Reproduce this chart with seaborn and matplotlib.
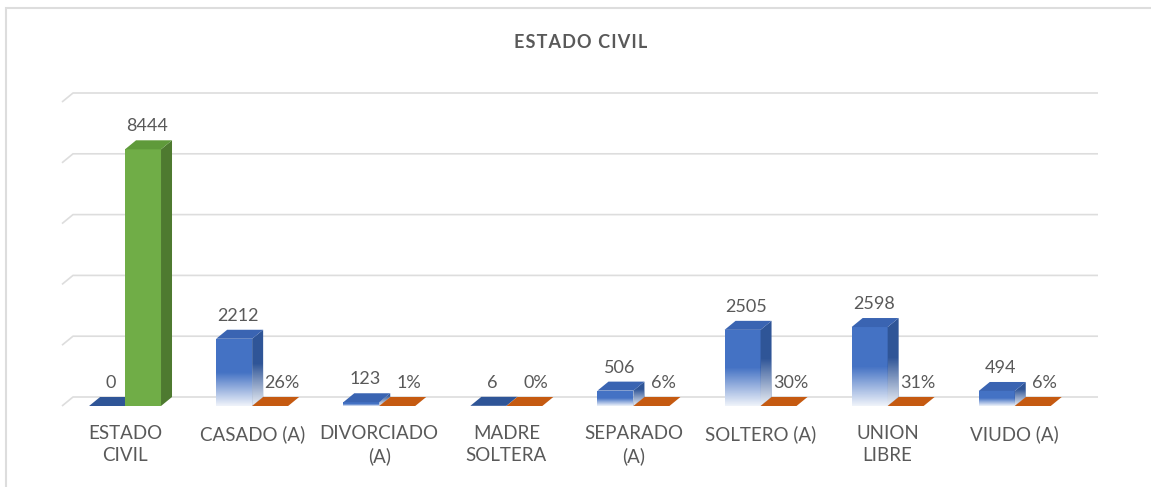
import numpy as np
import pandas as pd
import matplotlib
matplotlib.use('Agg')
import matplotlib.pyplot as plt
from matplotlib.patches import Polygon, Rectangle
import seaborn as sns

sns.set_style('white')
plt.rcParams['font.family'] = ['Lato', 'DejaVu Sans']

# data
categorias = ['ESTADO CIVIL', 'CASADO (A)', 'DIVORCIADO (A)', 'MADRE SOLTERA',
              'SEPARADO (A)', 'SOLTERO (A)', 'UNION LIBRE', 'VIUDO (A)']
etiquetas = ['ESTADO\nCIVIL', 'CASADO (A)', 'DIVORCIADO\n(A)', 'MADRE\nSOLTERA',
             'SEPARADO\n(A)', 'SOLTERO (A)', 'UNION\nLIBRE', 'VIUDO (A)']
cantidad = [0, 2212, 123, 6, 506, 2505, 2598, 494]
porcentaje = [8444, 0.26, 0.01, 0.00, 0.06, 0.30, 0.31, 0.06]  # first one is the total
series = ['Cantidad', 'Porcentaje']

df = pd.DataFrame({
    'categoria': categorias * 2,
    'serie': [series[0]] * 8 + [series[1]] * 8,
    'valor': cantidad + porcentaje,
})

W, H = 1151, 487
TXT = '#595959'
GRID = '#DDDDDD'
BLUE, BLUE_SIDE, BLUE_TOP = '#4472C4', '#2F5597', '#3A64B2'
ORANGE, ORANGE_TOP = '#C55A11', '#C0601E'
GREEN, GREEN_SIDE, GREEN_TOP = '#70AD47', '#4E7A30', '#5F9A3A'

fig = plt.figure(figsize=(W / 100, H / 100), dpi=100)
ax = fig.add_axes([62 / W, 81 / H, (1098 - 62) / W, 326 / H])

sns.barplot(data=df, x='categoria', y='valor', hue='serie', order=categorias,
            hue_order=series, palette=[BLUE, ORANGE], width=0.566, dodge=True,
            saturation=1, legend=False, ax=ax)

xmin, xmax = -0.496, 7.655
ymax = 10724
px_x = (xmax - xmin) / (1098 - 62)   # data units per pixel
px_y = ymax / 326
dx, dy = 11 * px_x, 9 * px_y

# back wall gridlines with the short side-wall slant
for v in range(0, 10001, 2000):
    ax.plot([xmin, xmin + dx, xmax], [v, v + dy, v + dy], color=GRID, lw=1.2,
            zorder=0.5, clip_on=False, solid_capstyle='butt')


def fade(patch, x0, x1, top, z, amax=0.92):
    img = np.ones((64, 1, 4))
    img[:, 0, 3] = np.linspace(amax, 0, 64)
    im = ax.imshow(img, extent=(x0, x1, 0, top), origin='lower', aspect='auto',
                   zorder=z + 0.01, interpolation='bilinear')
    im.set_clip_path(patch)


bars = []
for s, cont in enumerate(ax.containers):
    for i, rect in enumerate(cont):
        bars.append((i, s, rect))
bars.sort(key=lambda b: (b[0], b[1]))

for k, (i, s, rect) in enumerate(bars):
    z = 2 + k * 0.1
    x, w, h = rect.get_x(), rect.get_width(), rect.get_height()
    off = 4
    if s == 0:
        front, side, top = BLUE, BLUE_SIDE, BLUE_TOP
        lab = f'{cantidad[i]}'
    elif i == 0:
        front, side, top = GREEN, GREEN_SIDE, GREEN_TOP
        lab = f'{int(porcentaje[i])}'
    else:
        front, side, top = ORANGE, ORANGE, ORANGE_TOP
        lab = f'{porcentaje[i]:.0%}'
        off = 12
    rect.set_facecolor(front)
    rect.set_edgecolor('none')
    rect.set_zorder(z)
    sp = Polygon([(x + w, 0), (x + w + dx, dy), (x + w + dx, h + dy), (x + w, h)],
                 closed=True, fc=side, ec='none', zorder=z)
    tp = Polygon([(x, h), (x + dx, h + dy), (x + w + dx, h + dy), (x + w, h)],
                 closed=True, fc=top if h > 30 else (BLUE_SIDE if s == 0 else ORANGE),
                 ec='none', zorder=z + 0.02)
    ax.add_patch(sp)
    ax.add_patch(tp)
    if s == 0 and h > 100:
        fade(rect, x, x + w, h * 0.5, z)
        fade(sp, x + w, x + w + dx, h * 0.5 + dy, z)
    ax.text(x + w / 2 + off * px_x, h + dy + 14 * px_y, lab, ha='center', va='center',
            fontsize=13, color=TXT, zorder=10)

ax.set_xlim(xmin, xmax)
ax.set_ylim(0, ymax)
ax.set_xticks(range(len(categorias)), labels=etiquetas)
ax.tick_params(axis='x', length=0, pad=14, labelsize=13.5, labelcolor=TXT)
for t in ax.get_xticklabels():
    t.set_linespacing(1.3)
ax.set_yticks([])
ax.set_xlabel('')
ax.set_ylabel('')
sns.despine(ax=ax, left=True, bottom=True)

titulo = '\u200a'.join('ESTADO CIVIL')
fig.text(581 / W, 1 - 42 / H, titulo, ha='center', va='center',
         fontsize=13, fontweight='bold', color=TXT)

# chart frame, only the top and left edges fall inside the picture
fig.patches.append(Rectangle((6 / W, -0.1), 1.2, 1 - 8 / H + 0.1, transform=fig.transFigure,
                             fill=False, ec=GRID, lw=1.5))

fig.savefig('out.png', dpi=100, facecolor='white')
